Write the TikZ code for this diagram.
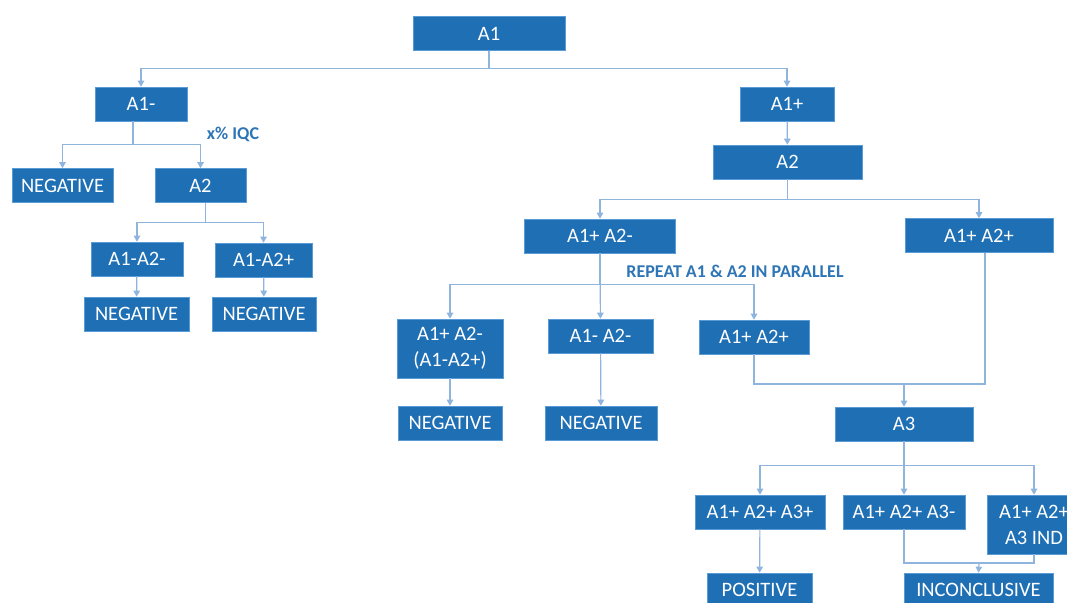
\documentclass[tikz,border=0pt]{standalone}
\usepackage{fontspec}
\setmainfont{Carlito}
\usetikzlibrary{arrows.meta}
\definecolor{boxblue}{HTML}{1F6FB5}
\definecolor{boxedge}{HTML}{5B9BD5}
\definecolor{linkblue}{HTML}{8FB4DE}
\definecolor{notblue}{HTML}{2E75B6}
\begin{document}
\begin{tikzpicture}
[x=1pt,y=-1pt,%
  box/.style={draw=boxedge,fill=boxblue,text=white,line width=0.6pt,
    minimum height=34pt,inner sep=2pt,align=center,
    font=\fontsize{20.5}{26}\selectfont},%
  note/.style={text=notblue,font=\bfseries\fontsize{18}{20}\selectfont},%
  link/.style={draw=linkblue,line width=1.2pt},%
  arr/.style={link,-{Triangle[length=6pt,width=6.5pt]}}]
\clip (0,0) rectangle (1067,602);
% boxes
\node[box,minimum width=152pt] (A1) at (489,33.5) {A1};
\node[box,minimum width=92pt] (A1m) at (141,104) {A1-};
\node[box,minimum width=94pt] (A1p) at (787,104) {A1+};
\node[box,minimum width=149pt] (A2p) at (787.5,162) {A2};
\node[box,minimum width=101pt] (negA) at (62.5,185.5) {NEGATIVE};
\node[box,minimum width=91pt] (A2m) at (200.5,185.5) {A2};
\node[box,minimum width=92pt] (mm) at (137,259) {A1-A2-};
\node[box,minimum width=97pt] (mp) at (263.5,260) {A1-A2+};
\node[box,minimum width=105pt] (negB) at (136.5,314) {NEGATIVE};
\node[box,minimum width=104pt] (negC) at (264,314) {NEGATIVE};
\node[box,minimum width=151pt] (pm) at (600,236) {A1+ A2-};
\node[box,minimum width=148pt] (pp) at (979,235.5) {A1+ A2+};
\node[box,minimum width=106pt,minimum height=59pt] (rA) at (450,348.5) {A1+ A2-\\(A1-A2+)};
\node[box,minimum width=105pt] (rB) at (600.5,336) {A1- A2-};
\node[box,minimum width=110pt] (rC) at (754,337) {A1+ A2+};
\node[box,minimum width=104pt] (negD) at (450,423) {NEGATIVE};
\node[box,minimum width=112pt] (negE) at (601,423) {NEGATIVE};
\node[box,minimum width=138pt] (A3) at (904,424) {A3};
\node[box,minimum width=130pt] (tA) at (760,512) {A1+ A2+ A3+};
\node[box,minimum width=122pt] (tB) at (904,512) {A1+ A2+ A3-};
\node[box,minimum width=94pt,minimum height=59pt] (tC) at (1034,524.5) {A1+ A2+\\A3 IND};
\node[box,minimum width=105pt] (pos) at (759.5,590) {POSITIVE};
\node[box,minimum width=149pt] (inc) at (978.5,590) {INCONCLUSIVE};
% notes
\node[note] (iqc) at (233,134) {x\% IQC};
\node[note] (rep) at (735,271) {REPEAT A1 \& A2 IN PARALLEL};
% connectors
\draw[arr] (A1.south) -- ++(0,18) -| (A1m.north);
\draw[arr] (A1.south) -- ++(0,18) -| (A1p.north);
\draw[arr] (A1p) -- (A2p);
\draw[arr] ([xshift=-8pt]A1m.south) -- ++(0,23) -| (negA.north);
\draw[arr] ([xshift=-8pt]A1m.south) -- ++(0,23) -| (A2m.north);
\draw[arr] ([xshift=5pt]A2m.south) -- ++(0,20) -| (mm.north);
\draw[arr] ([xshift=5pt]A2m.south) -- ++(0,20) -| (mp.north);
\draw[arr] (mm) -- (negB);
\draw[arr] (mp) -- (negC);
\draw[arr] (A2p.south) -- ++(0,20) -| (pm.north);
\draw[arr] (A2p.south) -- ++(0,20) -| (pp.north);
\draw[arr] (pm.south) -- ++(0,31) -| (rA.north);
\draw[arr] (pm.south) -- ++(0,31) -| (rC.north);
\draw[arr] (pm) -- (rB);
\draw[arr] (rA) -- (negD);
\draw[arr] (rB) -- (negE);
\coordinate (joinA3) at (904,384);
\draw[link] (rC.south) |- (joinA3) -| ([xshift=6pt]pp.south);
\draw[arr] (joinA3) -- (A3.north);
\draw[arr] (A3.south) -- ++(0,24) -| (tA.north);
\draw[arr] (A3.south) -- ++(0,24) -| (tC.north);
\draw[arr] (A3) -- (tB);
\draw[arr] (tA) -- (pos);
\coordinate (joinInc) at (979,563);
\draw[link] (tB.south) |- (joinInc) -| (tC.south);
\draw[arr] (joinInc) -- (inc.north);
\end{tikzpicture}
\end{document}
